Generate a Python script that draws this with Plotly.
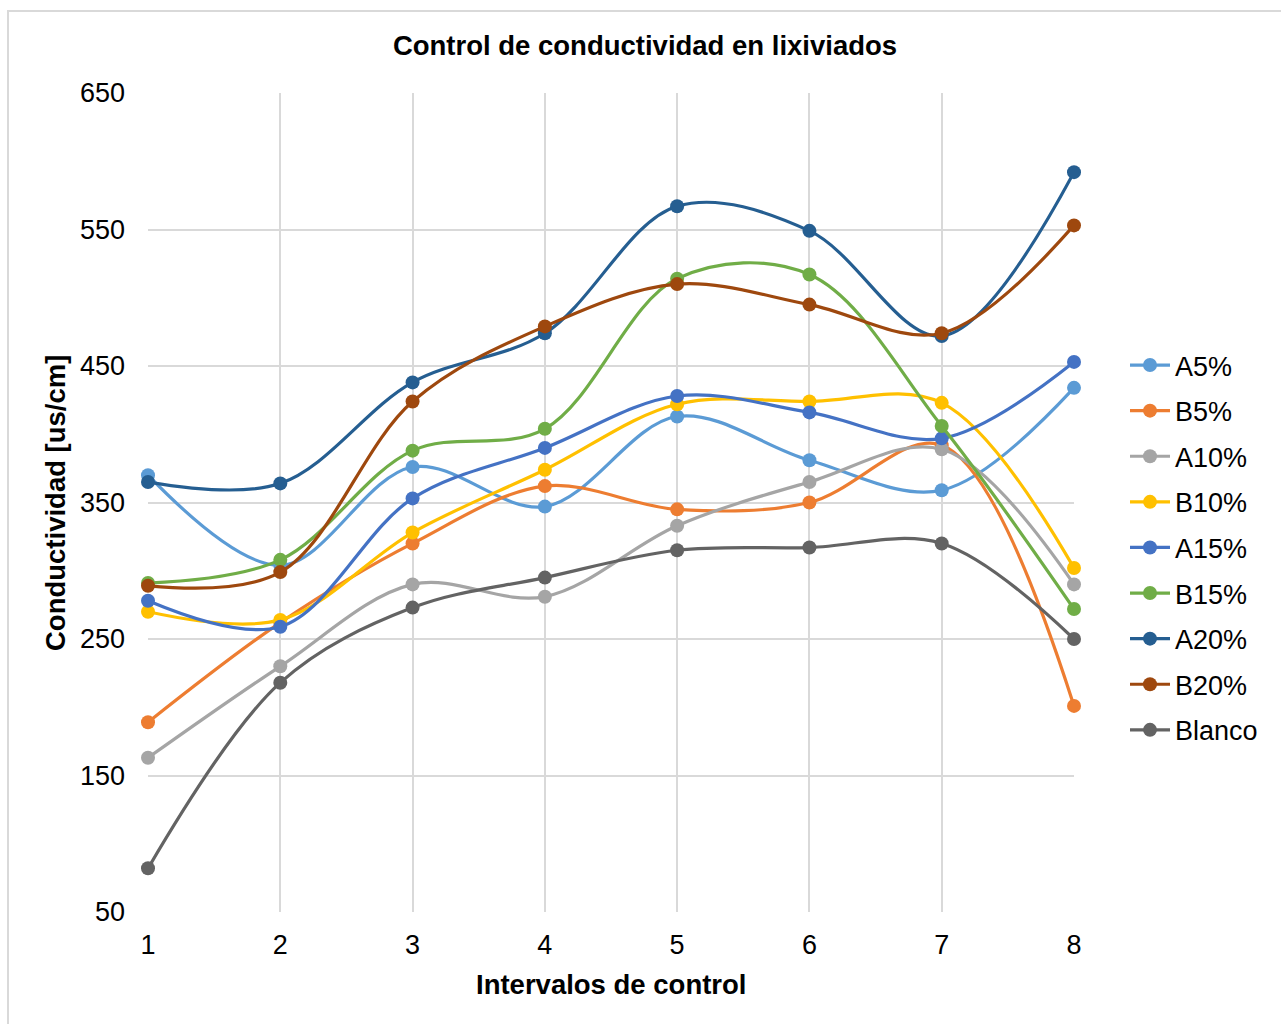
import plotly.graph_objects as go

# Control intervals (x axis)
intervalos = [1, 2, 3, 4, 5, 6, 7, 8]

# Conductivity readings per treatment [us/cm]
a5 = [370, 304, 376, 347, 413, 381, 359, 434]
b5 = [189, 262, 320, 362, 345, 350, 392, 201]
a10 = [163, 230, 290, 281, 333, 365, 389, 290]
b10 = [270, 264, 328, 374, 422, 424, 423, 302]
a15 = [278, 259, 353, 390, 428, 416, 397, 453]
b15 = [291, 308, 388, 404, 514, 517, 406, 272]
a20 = [365, 364, 438, 474, 567, 549, 472, 592]
b20 = [289, 299, 424, 479, 510, 495, 474, 553]
blanco = [82, 218, 273, 295, 315, 317, 320, 250]

series = [
    ("A5%", a5, "#5B9BD5"),
    ("B5%", b5, "#ED7D31"),
    ("A10%", a10, "#A5A5A5"),
    ("B10%", b10, "#FFC000"),
    ("A15%", a15, "#4472C4"),
    ("B15%", b15, "#70AD47"),
    ("A20%", a20, "#255E91"),
    ("B20%", b20, "#9E480E"),
    ("Blanco", blanco, "#636363"),
]

FONT = "Liberation Sans, Arial, sans-serif"

fig = go.Figure()
for name, vals, color in series:
    fig.add_trace(go.Scatter(
        x=intervalos, y=vals, name=name, legendgroup=name,
        mode="lines+markers",
        line=dict(color=color, width=3.2, shape="spline", smoothing=1.0),
        marker=dict(color=color, size=14),
        cliponaxis=False,
    ))

# plot area in pixels
L, R, T, B = 148, 1074, 93, 912
W, H = 1281, 1024
pw, ph = R - L, B - T

def px_x(x):
    return (x - L) / pw

def px_y(y):
    return (B - y) / ph

grid = "#D9D9D9"
fig.update_layout(
    width=W, height=H,
    margin=dict(l=L, r=W - R, t=T, b=H - B, pad=0),
    paper_bgcolor="white", plot_bgcolor="white",
    font=dict(family=FONT, size=27, color="#000000"),
    title=dict(text="<b>Control de conductividad en lixiviados</b>",
               x=645 / W, xref="container", xanchor="center",
               y=1 - 45 / H, yref="container", yanchor="middle",
               font=dict(family=FONT, size=27.5, color="#000000")),
    xaxis=dict(range=[1, 8], tickmode="array", tickvals=intervalos,
               showgrid=True, gridcolor=grid, gridwidth=2,
               zeroline=False, showline=False, ticks="",
               ticklabelstandoff=14,
               tickfont=dict(family=FONT, size=27)),
    yaxis=dict(range=[50, 650], tickmode="array",
               tickvals=[50, 150, 250, 350, 450, 550, 650],
               showgrid=True, gridcolor=grid, gridwidth=2,
               zeroline=False, showline=False, ticks="",
               ticklabelstandoff=22,
               tickfont=dict(family=FONT, size=27)),
    legend=dict(x=px_x(1125), xanchor="left", y=px_y(341), yanchor="top",
                font=dict(family=FONT, size=27), traceorder="grouped",
                tracegroupgap=7.5, itemwidth=40, bgcolor="rgba(0,0,0,0)"),
    showlegend=True,
)

# axis titles
fig.add_annotation(text="<b>Intervalos de control</b>", xref="paper", yref="paper",
                   x=px_x(611), y=px_y(985), showarrow=False,
                   xanchor="center", yanchor="middle",
                   font=dict(family=FONT, size=27.5))
fig.add_annotation(text="<b>Conductividad [us/cm]</b>", xref="paper", yref="paper",
                   x=px_x(55), y=px_y(503), showarrow=False, textangle=-90,
                   xanchor="center", yanchor="middle",
                   font=dict(family=FONT, size=27.5))

# chart frame edges (top and left)
fig.add_shape(type="path", xref="paper", yref="paper",
              path=f"M {px_x(8)},{px_y(1040)} L {px_x(8)},{px_y(11)} L {px_x(1300)},{px_y(11)}",
              line=dict(color="#D9D9D9", width=2), layer="below")

fig.write_html("out.html")
